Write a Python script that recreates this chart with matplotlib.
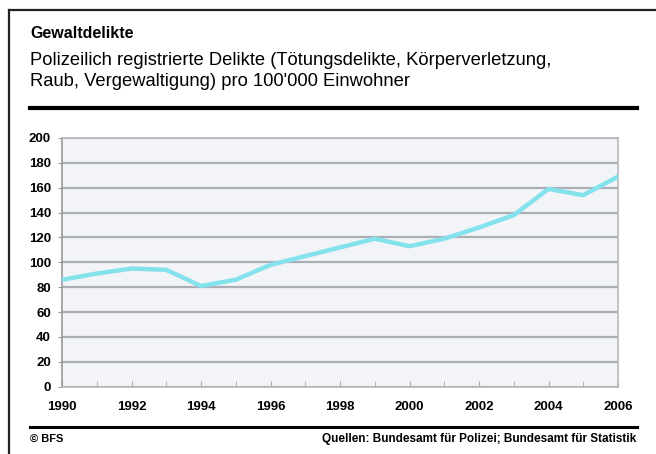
import matplotlib
matplotlib.use("Agg")
import matplotlib.pyplot as plt
from matplotlib.lines import Line2D

years = list(range(1990, 2007))
delikte = [86, 91, 95, 94, 81, 86, 98, 105, 112, 119, 113, 119, 128, 138, 159, 154, 169]
x_ticks = [1990, 1992, 1994, 1996, 1998, 2000, 2002, 2004, 2006]
y_ticks = [0, 20, 40, 60, 80, 100, 120, 140, 160, 180, 200]

title = "Gewaltdelikte"
subtitle_1 = "Polizeilich registrierte Delikte (Tötungsdelikte, Körperverletzung,"
subtitle_2 = "Raub, Vergewaltigung) pro 100'000 Einwohner"
left_note = "© BFS"
source = "Quellen: Bundesamt für Polizei; Bundesamt für Statistik"

plt.rcParams["font.family"] = ["Liberation Sans", "DejaVu Sans"]

fig = plt.figure(figsize=(6.56, 4.54), dpi=100)
fig.patch.set_facecolor("white")

def fy(py):
    return 1 - py / 454

# frame lines (left and top)
fig.add_artist(Line2D([9 / 656, 9 / 656], [0, fy(10)], color="#222222", lw=1.6))
fig.add_artist(Line2D([9 / 656, 1], [fy(10), fy(10)], color="#222222", lw=1.6))
# thick separator lines
fig.add_artist(Line2D([30 / 656, 637 / 656], [fy(108)] * 2, color="black", lw=3))
fig.add_artist(Line2D([30 / 656, 637 / 656], [fy(427)] * 2, color="black", lw=2.2))

fig.text(30 / 656, fy(38), title, fontsize=11.5, fontweight="bold", ha="left", va="baseline")
fig.text(30 / 656, fy(65), subtitle_1, fontsize=13.2, ha="left", va="baseline")
fig.text(30 / 656, fy(86), subtitle_2, fontsize=13.2, ha="left", va="baseline")
fig.text(30 / 656, fy(442), left_note, fontsize=8, fontweight="bold", ha="left", va="baseline")
fig.text(636 / 656, fy(442), source, fontsize=8.5, fontweight="bold", ha="right", va="baseline")

ax = fig.add_axes([62 / 656, 67.3 / 454, 556 / 656, 248.7 / 454])
ax.set_facecolor("#f3f4f8")
ax.plot(years, delikte, color="#84e2ec", lw=3.2, solid_joinstyle="round", zorder=3)

ax.set_xlim(1990, 2006)
ax.set_ylim(0, 200)
ax.set_xticks(x_ticks)
ax.set_xticks(years, minor=True)
ax.set_yticks(y_ticks)
ax.yaxis.grid(True, color="#acaeb6", lw=1.6)
ax.set_axisbelow(True)

for s in ["left", "bottom", "right", "top"]:
    ax.spines[s].set_color("#b8b8be")
    ax.spines[s].set_linewidth(1.2)
ax.spines["left"].set_color("#999999")

ax.tick_params(axis="x", which="both", direction="in", length=4, color="#aaaaaa",
               pad=10, labelsize=9.5)
ax.tick_params(axis="y", direction="out", length=3, color="#999999", pad=5, labelsize=9.5)
for lab in ax.get_xticklabels() + ax.get_yticklabels():
    lab.set_fontweight("bold")

fig.savefig("out.png", dpi=100)
